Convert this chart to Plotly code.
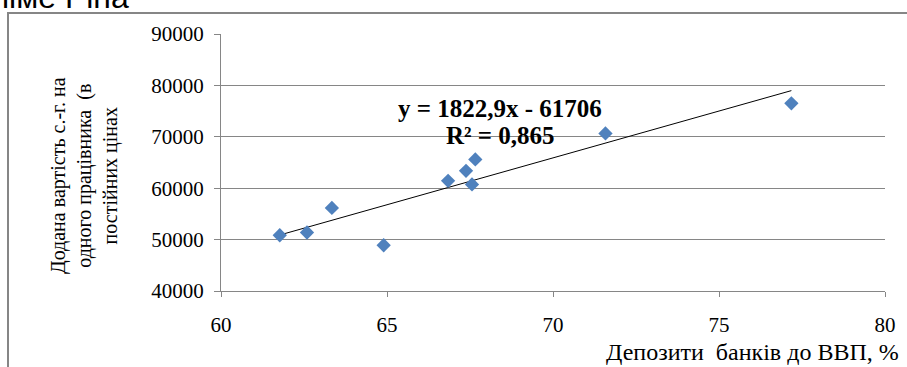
import plotly.graph_objects as go

# Data
deposits_pct = [61.77, 62.59, 63.34, 64.90, 66.84, 67.38, 67.56, 67.66, 71.58, 77.18]
value_added = [50850, 51380, 56170, 48900, 61430, 63380, 60730, 65600, 70660, 76510]

# Trendline as given in the chart label
slope = 1822.9
intercept = -61706
r_squared = "0,865"

x_ticks = [60, 65, 70, 75, 80]
y_ticks = [40000, 50000, 60000, 70000, 80000, 90000]

W, H = 907, 367
ML, MR, MT, MB = 221, 22, 34, 76
PW = W - ML - MR
PH = H - MT - MB


def px_x(p):
    return (p - ML) / PW


def px_y(p):
    return (H - MB - p) / PH


serif = "Liberation Serif, Times New Roman, serif"
grid_col = "#868686"

fig = go.Figure()

tx = [min(deposits_pct), max(deposits_pct)]
ty = [slope * v + intercept for v in tx]
fig.add_trace(go.Scatter(x=tx, y=ty, mode="lines",
                         line=dict(color="#000000", width=1),
                         hoverinfo="skip", showlegend=False))

fig.add_trace(go.Scatter(x=deposits_pct, y=value_added, mode="markers",
                         marker=dict(symbol="diamond", size=11, color="#4F81BD",
                                     line=dict(width=0)),
                         showlegend=False))

fig.update_layout(
    width=W, height=H,
    margin=dict(l=ML, r=MR, t=MT, b=MB, pad=0),
    paper_bgcolor="white", plot_bgcolor="white",
    showlegend=False,
    font=dict(family=serif, size=21, color="#000000"),
    xaxis=dict(range=[60, 80], tickvals=x_ticks, ticktext=[str(v) for v in x_ticks],
               showgrid=False, zeroline=False, showline=True, linecolor=grid_col,
               linewidth=1, ticks="outside", ticklen=5, tickcolor=grid_col,
               ticklabelstandoff=10,
               tickfont=dict(family=serif, size=21, color="#000000")),
    yaxis=dict(range=[40000, 90000], tickvals=y_ticks, ticktext=[str(v) for v in y_ticks],
               showgrid=True, gridcolor=grid_col, gridwidth=1, zeroline=False,
               showline=True, linecolor=grid_col, linewidth=1,
               ticks="outside", ticklen=6, tickcolor=grid_col,
               ticklabelstandoff=6,
               tickfont=dict(family=serif, size=21, color="#000000")),
)

# equation label (two lines)
fig.add_annotation(x=px_x(500), y=px_y(108), xref="paper", yref="paper",
                   text=f"<b>y = {str(slope).replace('.', ',')}x - {abs(intercept)}</b>",
                   showarrow=False, xanchor="center", yanchor="middle",
                   font=dict(family=serif, size=25, color="#000000"))
fig.add_annotation(x=px_x(500), y=px_y(135), xref="paper", yref="paper",
                   text=f"<b>R² = {r_squared}</b>",
                   showarrow=False, xanchor="center", yanchor="middle",
                   font=dict(family=serif, size=25, color="#000000"))

# y-axis title
fig.add_annotation(x=px_x(84), y=px_y(176), xref="paper", yref="paper",
                   text="Додана вартість с.-г. на<br>одного працівника  (в<br>постійних цінах",
                   textangle=-90, showarrow=False, align="center",
                   xanchor="center", yanchor="middle",
                   font=dict(family=serif, size=20, color="#000000"))

# x-axis title
fig.add_annotation(x=px_x(901), y=px_y(352), xref="paper", yref="paper",
                   text="Депозити  банків до ВВП, %",
                   showarrow=False, xanchor="right", yanchor="middle",
                   font=dict(family=serif, size=24, color="#000000"))

# cut-off heading text at the very top
fig.add_annotation(x=px_x(0), y=px_y(17), xref="paper", yref="paper",
                   text="ііме Ріна", showarrow=False, xanchor="left", yanchor="bottom",
                   font=dict(family="Liberation Sans, Arial, sans-serif", size=32, color="#000000"))

# outer chart border
fig.add_shape(type="rect", xref="paper", yref="paper",
              x0=px_x(8), x1=px_x(915), y0=px_y(375), y1=px_y(13),
              line=dict(color=grid_col, width=2), fillcolor="rgba(0,0,0,0)", layer="below")

fig.write_html("out.html", config={"displayModeBar": False},
               post_script="document.body.style.margin='0';document.body.style.overflow='hidden';")
